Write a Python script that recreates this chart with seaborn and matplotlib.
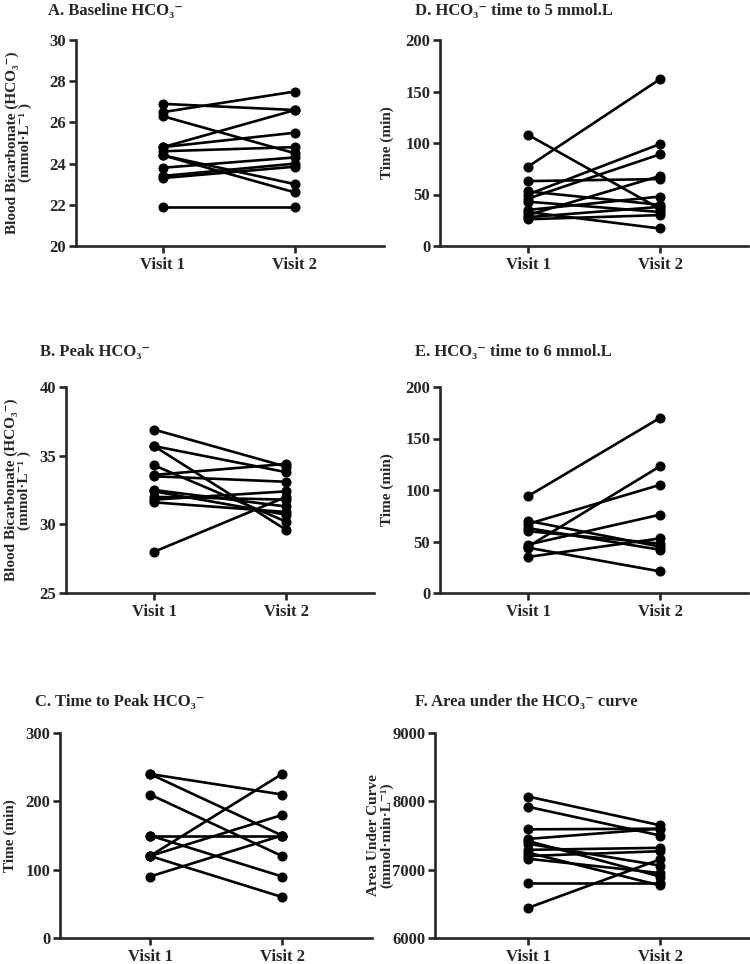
import seaborn as sns
import matplotlib.pyplot as plt
import pandas as pd

visits = ["Visit 1", "Visit 2"]

# A. baseline bicarbonate
a_v1 = [26.9, 26.5, 26.3, 24.8, 24.8, 24.6, 24.4, 24.4, 23.8, 23.4, 23.3, 21.9]
a_v2 = [26.6, 27.5, 24.5, 26.6, 25.5, 24.8, 23.0, 22.6, 24.3, 24.0, 23.85, 21.9]
# B. peak bicarbonate
b_v1 = [36.9, 35.7, 35.7, 34.3, 33.6, 33.5, 32.5, 32.4, 32.0, 31.8, 31.6, 28.0]
b_v2 = [34.2, 33.8, 29.6, 30.2, 34.4, 33.1, 31.3, 30.7, 31.8, 32.4, 30.9, 32.0]
# C. time to peak
c_v1 = [240, 240, 210, 150, 150, 120, 120, 120, 90]
c_v2 = [210, 150, 120, 150, 90, 240, 180, 60, 150]
# D. time to 5 mmol
d_v1 = [108, 77, 63, 53, 50, 46, 43, 35, 33, 30, 28, 26]
d_v2 = [36, 162, 65, 40, 99, 89, 33, 48, 17, 68, 38, 30]
# E. time to 6 mmol
e_v1 = [94, 70, 67, 63, 60, 47, 45, 44, 35]
e_v2 = [170, 45, 105, 42, 48, 76, 123, 21, 53]
# F. area under curve
f_v1 = [8070, 7920, 7590, 7450, 7420, 7380, 7290, 7250, 7200, 7160, 6810, 6440]
f_v2 = [7650, 7500, 7600, 7600, 6900, 7060, 7320, 6770, 7270, 6950, 6810, 7150]

hco3 = "HCO\u2083\u207b"
titles = ["A. Baseline " + hco3, "B. Peak " + hco3, "C. Time to Peak " + hco3,
          "D. " + hco3 + " time to 5 mmol.L", "E. " + hco3 + " time to 6 mmol.L",
          "F. Area under the " + hco3 + " curve"]
ylabels = ["Blood Bicarbonate (" + hco3 + ")\n(mmol\u00b7L\u207b\u00b9 )",
           "Blood Bicarbonate (" + hco3 + ")\n(mmol\u00b7L\u207b\u00b9 )",
           "Time (min)", "Time (min)", "Time (min)",
           "Area Under Curve\n(mmol\u00b7min\u00b7L\u207b\u00b9)"]
ylims = [(20, 30), (25, 40), (0, 300), (0, 200), (0, 200), (6000, 9000)]
yticks = [range(20, 31, 2), range(25, 41, 5), range(0, 301, 100),
          range(0, 201, 50), range(0, 201, 50), range(6000, 9001, 1000)]
series = [(a_v1, a_v2), (b_v1, b_v2), (c_v1, c_v2),
          (d_v1, d_v2), (e_v1, e_v2), (f_v1, f_v2)]

sns.set_style("ticks")
plt.rcParams['font.family'] = ['Liberation Serif', 'DejaVu Serif']
plt.rcParams['font.weight'] = 'bold'
plt.rcParams['axes.labelweight'] = 'bold'

W, H = 750, 964
fig = plt.figure(figsize=(7.5, 9.64), dpi=100)

# pixel boxes: left, right, top, bottom, x of visit 1, title x, title y,
# right edge of the y label
boxes = [(76, 384, 40, 246, 163, 48, 11, 32),
         (66, 374, 387, 593, 154, 40, 352, 31),
         (60, 372, 733, 938, 150, 35, 702, 17),
         (440, 748, 40, 246, 528, 415, 11, 394),
         (440, 748, 387, 593, 528, 415, 352, 394),
         (435, 749, 733, 938, 528, 415, 702, 393)]

for i, (l, r, t, b, v1x, tx, ty, lx) in enumerate(boxes):
    ax = fig.add_axes([l / W, 1 - b / H, (r - l) / W, (b - t) / H])
    v1, v2 = series[i]
    n = len(v1)
    df = pd.DataFrame({
        "subject": list(range(n)) * 2,
        "visit": [0] * n + [1] * n,
        "value": list(v1) + list(v2),
    })
    sns.lineplot(data=df, x="visit", y="value", units="subject", estimator=None,
                 color="black", linewidth=1.9, marker="o", markersize=6.5,
                 markeredgecolor="black", ax=ax)
    ax.set_xlim((l - v1x) / 132, (r - v1x) / 132)
    ax.set_ylim(*ylims[i])
    ax.set_yticks(list(yticks[i]))
    ax.set_xticks([0, 1])
    ax.set_xticklabels(visits)
    sns.despine(ax=ax)
    for s in ["left", "bottom"]:
        ax.spines[s].set_linewidth(1.9)
    ax.tick_params(width=1.9, length=5, labelsize=12, pad=2)
    ax.tick_params(axis="x", pad=3)
    for lab in ax.get_xticklabels() + ax.get_yticklabels():
        lab.set_fontweight("bold")
    ax.set_xlabel("")
    ax.set_ylabel(ylabels[i], fontsize=11, fontweight="bold", linespacing=0.95)
    ax.yaxis.set_label_coords((lx - l) / (r - l), 0.5)
    fig.text(tx / W, 1 - ty / H, titles[i], fontsize=12, fontweight="bold",
             ha="left", va="center")

fig.savefig("out.png", dpi=100)
